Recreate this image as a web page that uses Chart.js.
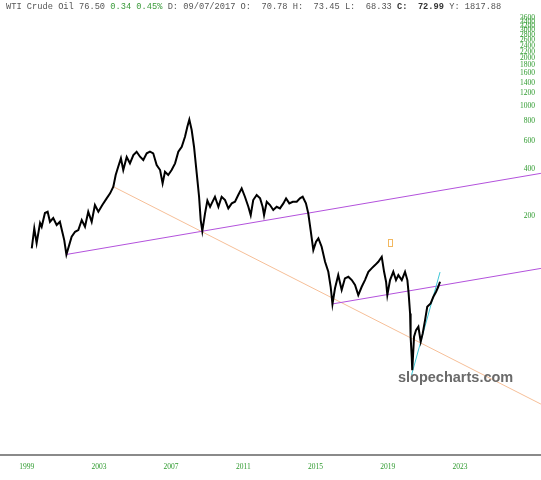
<!DOCTYPE html>
<html>
<head>
<meta charset="utf-8">
<script src="https://cdn.jsdelivr.net/npm/chart.js@4.4.0/dist/chart.umd.min.js"></script>
<style>
  html, body { margin: 0; padding: 0; background: #fff; }
  #wrap { position: relative; width: 541px; height: 480px; overflow: hidden; }
  #c { position: absolute; left: 0; top: 0; }
  #hdr { position: absolute; left: 6px; top: 1px; font-family: "Liberation Mono", monospace; font-size: 8.7px; line-height: 12px; color: #555; white-space: pre; }
  #hdr .g { color: #3a9a3a; }
  #hdr b { color: #333; }
  #wm { position: absolute; left: 398px; top: 370px; font-family: "Liberation Sans", Arial, sans-serif; font-weight: bold; font-size: 14.5px; line-height: 1; color: #6a6a6a; white-space: nowrap; }
</style>
</head>
<body>
<div id="wrap">
  <canvas id="c" width="541" height="480"></canvas>
  <div id="hdr">WTI Crude Oil 76.50 <span class="g">0.34 0.45%</span> D: 09/07/2017 O:  70.78 H:  73.45 L:  68.33 <b>C:  72.99</b> Y: 1817.88</div>
  <div id="wm">slopecharts.com</div>
</div>
<script>
// ---- data (decimal years, values in the chart's axis units) ----
const priceDates = [
  1999.28, 1999.42, 1999.55, 1999.74, 1999.83, 2000.01, 2000.16, 2000.29, 2000.47, 2000.66,
  2000.84, 2000.97, 2001.08, 2001.20, 2001.49, 2001.68, 2001.86, 2002.05, 2002.23, 2002.41,
  2002.60, 2002.78, 2002.97, 2003.19, 2003.43, 2003.62, 2003.80, 2003.93, 2004.07, 2004.22,
  2004.35, 2004.54, 2004.72, 2004.91, 2005.09, 2005.28, 2005.46, 2005.65, 2005.83, 2006.01,
  2006.20, 2006.39, 2006.53, 2006.66, 2006.84, 2007.03, 2007.22, 2007.40, 2007.59, 2007.77,
  2007.90, 2008.01, 2008.14, 2008.27, 2008.42, 2008.55, 2008.64, 2008.73, 2008.88, 2009.01,
  2009.16, 2009.25, 2009.43, 2009.62, 2009.80, 2009.99, 2010.17, 2010.36, 2010.54, 2010.72,
  2010.91, 2011.09, 2011.28, 2011.41, 2011.55, 2011.74, 2011.93, 2012.07, 2012.15, 2012.30,
  2012.48, 2012.66, 2012.85, 2013.03, 2013.22, 2013.37, 2013.55, 2013.74, 2013.96, 2014.14,
  2014.29, 2014.47, 2014.60, 2014.73, 2014.88, 2015.03, 2015.16, 2015.34, 2015.53, 2015.71,
  2015.84, 2015.94, 2016.08, 2016.26, 2016.45, 2016.63, 2016.82, 2017.01, 2017.19, 2017.37,
  2017.56, 2017.74, 2017.93, 2018.11, 2018.30, 2018.48, 2018.67, 2018.80, 2018.91, 2018.98,
  2019.13, 2019.31, 2019.46, 2019.59, 2019.78, 2019.96, 2020.09, 2020.16, 2020.24, 2020.27,
  2020.33, 2020.36, 2020.46, 2020.57, 2020.70, 2020.83, 2020.94, 2021.07, 2021.19, 2021.38,
  2021.53, 2021.68, 2021.80, 2021.90
];
const priceValues = [
  124.8, 167.1, 134.9, 180.6, 171.1, 209.0, 213.0, 184.0, 194.2, 175.4,
  184.0, 159.0, 140.9, 114.1, 147.8, 159.0, 163.0, 188.7, 171.1, 213.0,
  184.0, 234.8, 213.0, 234.8, 258.9, 278.5, 306.7, 363.8, 410.6, 464.2,
  391.3, 473.1, 431.6, 487.2, 511.2, 475.2, 452.8, 499.3, 511.2, 499.3,
  421.0, 391.3, 322.3, 381.7, 363.8, 391.3, 431.6, 511.2, 549.8, 636.2,
  736.2, 817.8, 701.5, 549.8, 372.9, 265.1, 188.7, 160.7, 208.0, 250.8,
  229.1, 240.7, 265.1, 229.1, 265.1, 252.6, 223.8, 240.7, 246.4, 271.7,
  299.6, 265.1, 229.1, 202.9, 252.6, 271.7, 258.9, 229.1, 202.9, 246.4,
  234.8, 218.3, 229.1, 223.8, 240.7, 258.9, 240.7, 246.4, 246.4, 258.9,
  265.1, 240.7, 208.0, 163.0, 121.8, 137.5, 144.5, 127.8, 102.7, 88.7,
  71.3, 55.4, 69.7, 84.5, 68.0, 80.6, 82.5, 78.6, 73.1, 63.2,
  71.3, 78.6, 88.7, 93.2, 97.8, 102.7, 110.4, 88.7, 76.7, 63.2,
  78.6, 88.7, 78.6, 84.5, 78.6, 88.7, 78.6, 64.8, 48.3, 34.4,
  25.7, 21.1, 34.4, 37.9, 39.8, 32.0, 36.1, 43.8, 53.2, 55.9,
  61.6, 66.3, 71.3, 76.7
];
// trend lines (start/end date and value)
const upperChannelDates  = [2001.18, 2027.49];
const upperChannelValues = [114.1, 373.0];
const lowerChannelDates  = [2015.90, 2027.49];
const lowerChannelValues = [55.4, 93.2];
const fallingLineDates   = [2003.73, 2027.49];
const fallingLineValues  = [309.9, 12.87];
const risingLineDates    = [2020.32, 2021.90];
const risingLineValues   = [19.66, 88.3];
// small marker
const markerDate = 2019.155;
const markerValue = 135.8;
// ticks
const yTickValues = [200, 400, 600, 800, 1000, 1200, 1400, 1600, 1800, 2000, 2200, 2400, 2600, 2800, 3000, 3200, 3400, 3600];
const xTickYears = [1999, 2003, 2007, 2011, 2015, 2019, 2023];

const pts = (xs, ys) => xs.map((d, i) => ({ x: d, y: ys[i] }));

const markerPlugin = {
  id: 'marker',
  afterDatasetsDraw(chart) {
    const { ctx, scales } = chart;
    const px = Math.round(scales.x.getPixelForValue(markerDate));
    const py = Math.round(scales.y.getPixelForValue(markerValue));
    ctx.save();
    ctx.strokeStyle = '#f2b860';
    ctx.lineWidth = 1;
    ctx.strokeRect(px - 2 + 0.5, py - 3.5, 4, 7);
    ctx.restore();
  }
};

const lineDs = (data, color, width) => ({
  data, borderColor: color, borderWidth: width, pointRadius: 0, tension: 0, fill: false
});

new Chart(document.getElementById('c'), {
  type: 'line',
  data: {
    datasets: [
      lineDs(pts(priceDates, priceValues), '#000000', 2),
      lineDs(pts(risingLineDates, risingLineValues), '#3ec6d6', 1),
      lineDs(pts(upperChannelDates, upperChannelValues), '#b352dc', 1),
      lineDs(pts(lowerChannelDates, lowerChannelValues), '#b352dc', 1),
      lineDs(pts(fallingLineDates, fallingLineValues), '#f6bf98', 1)
    ]
  },
  options: {
    responsive: false,
    animation: false,
    devicePixelRatio: 1,
    events: [],
    layout: { padding: 0 },
    plugins: { legend: { display: false }, tooltip: { enabled: false }, title: { display: false } },
    scales: {
      x: {
        type: 'linear',
        position: 'bottom',
        min: 1997.521,
        max: 2027.493,
        grid: { display: false, drawTicks: false },
        border: { display: true, color: '#8a8a8a', width: 2 },
        afterBuildTicks: (ax) => { ax.ticks = xTickYears.map(v => ({ value: v })); },
        afterFit: (ax) => { ax.height = 25; ax.paddingLeft = 0; ax.paddingRight = 0; },
        ticks: {
          autoSkip: false, maxRotation: 0, padding: 7.5,
          color: '#2e9a2e',
          font: { family: '"Liberation Serif", "Times New Roman", serif', size: 7.5 },
          callback: (v) => String(v)
        }
      },
      y: {
        type: 'logarithmic',
        position: 'right',
        min: 6.126,
        max: 4676,
        bounds: 'data',
        grid: { display: false, drawTicks: false },
        border: { display: false },
        afterBuildTicks: (ax) => { ax.ticks = yTickValues.map(v => ({ value: v })); },
        afterFit: (ax) => { ax.width = 0; ax.paddingTop = 0; ax.paddingBottom = 0; },
        ticks: {
          mirror: true, padding: -6, autoSkip: false,
          color: '#2e9a2e',
          font: { family: '"Liberation Serif", "Times New Roman", serif', size: 7.5 },
          callback: (v) => String(v)
        }
      }
    }
  },
  plugins: [markerPlugin]
});
</script>
</body>
</html>
